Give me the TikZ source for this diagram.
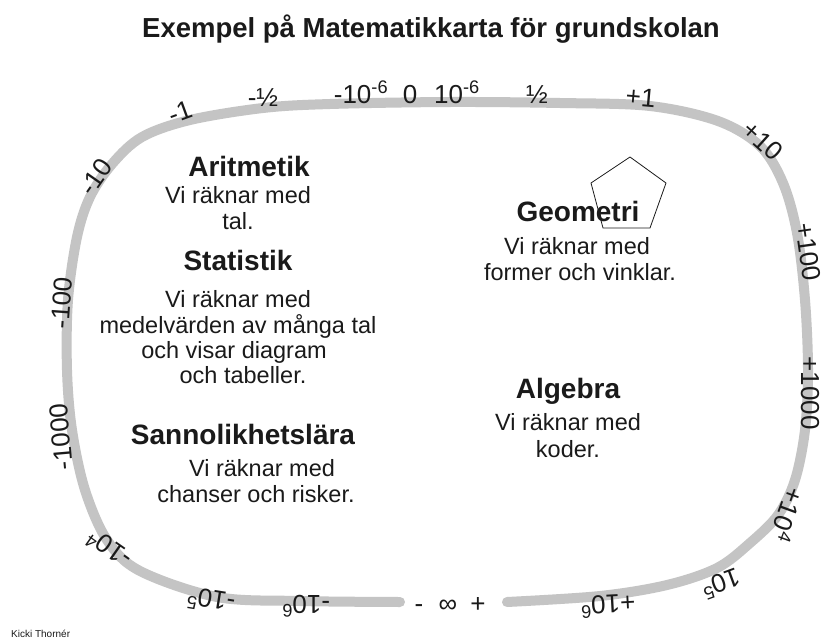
\documentclass[tikz,border=0pt]{standalone}
\usepackage{fontspec}
\setmainfont{Liberation Sans}
\definecolor{loopgray}{HTML}{C4C4C4}
\definecolor{inkblack}{HTML}{1A1A1A}
\begin{document}
\begin{tikzpicture}[x=1pt,y=-1pt,
  loopline/.style={draw=loopgray,line width=10pt,line cap=round,line join=round},
  lab/.style={text=inkblack,font=\fontsize{26}{26}\selectfont,inner sep=0pt},
  head/.style={text=inkblack,font=\bfseries\fontsize{28}{28}\selectfont,inner sep=0pt,anchor=base},
  body/.style={text=inkblack,font=\fontsize{23.5}{26}\selectfont,inner sep=0pt,anchor=base},
]
\useasboundingbox (0,0) rectangle (822,640);
\fill[white] (0,0) rectangle (822,640);

% title
\node[text=inkblack,font=\bfseries\fontsize{27.5}{28}\selectfont,inner sep=0pt,anchor=base] (title) at (431,37) {Exempel på Matematikkarta för grundskolan};

% number loop
\draw[loopline] plot[smooth,tension=0.55] coordinates {
 (400,602) (300,601) (217,597) (140,571) (107,540) (85,490) (72,430) (67,370)
 (68,300) (77,237) (90,197) (112,164) (142,137) (190,120) (263,108) (330,104)
 (450,102) (560,103) (650,106) (718,121) (760,146) (783,183) (797,233) (805,300)
 (808,370) (805,430) (795,480) (778,515) (750,543) (717,568) (667,585) (600,596) (507,602)};

% labels on the loop
\node[lab,anchor=base] (mhalf) at (263,106) {-½};
\node[lab,rotate=20] (m1) at (180,112) {-1};
\node[lab,rotate=55] (m10) at (96,177) {-10};
\node[lab,rotate=86] (m100) at (62,303) {-100};
\node[lab,rotate=95] (m1000) at (61,437) {-1000};
\node[lab,rotate=145] (m10e4) at (109,549) {-10\textsuperscript{4}};
\node[lab,rotate=171] (m10e5) at (211,601) {-10\textsuperscript{5}};
\node[lab,rotate=180] (m10e6) at (306,606) {-10\textsuperscript{6}};
\node[lab,anchor=base] (minus) at (419,612) {-};
\node[lab,anchor=base] (infty) at (448,612) {∞};
\node[lab,anchor=base] (plus) at (478,612) {+};
\node[lab,rotate=183] (p10e6) at (608,606) {+10\textsuperscript{6}};
\node[lab,rotate=200] (p10e5) at (721,584) {10\textsuperscript{5}};
\node[lab,rotate=-110] (p10e4) at (788,515) {+10\textsuperscript{4}};
\node[lab,rotate=-90] (p1000) at (810,393) {+1000};
\node[lab,rotate=-82] (p100) at (808,252) {+100};
\node[lab,rotate=-42] (p10) at (763,141) {+10};
\node[lab,rotate=-5,anchor=base] (p1) at (640,106) {+1};
\node[lab,anchor=base] (phalf) at (537,103) {½};
\node[lab,anchor=base] (p10m6) at (457,103) {10\textsuperscript{-6}};
\node[lab,anchor=base] (zero) at (410,103) {0};
\node[lab,anchor=base] (m10m6) at (361,103) {-10\textsuperscript{-6}};

% pentagon
\draw[line width=0.8pt,inkblack] (630,157) -- (666,183) -- (650,228) -- (603,228) -- (591,183) -- cycle;

% Aritmetik
\node[head] (arit) at (249,176) {Aritmetik};
\node[body] (arit1) at (238,203) {Vi räknar med};
\node[body] (arit2) at (238,229) {tal.};

% Statistik
\node[head] (stat) at (238,270) {Statistik};
\node[body] (stat1) at (238,307) {Vi räknar med};
\node[body] (stat2) at (238,333) {medelvärden av många tal};
\node[body] (stat3) at (234,358) {och visar diagram};
\node[body] (stat4) at (243,383) {och tabeller.};

% Sannolikhetslära
\node[head] (sann) at (243,444) {Sannolikhetslära};
\node[body] (sann1) at (262,476) {Vi räknar med};
\node[body] (sann2) at (256,502) {chanser och risker.};

% Geometri
\node[head] (geo) at (578,221) {Geometri};
\node[body] (geo1) at (577,254) {Vi räknar med};
\node[body] (geo2) at (580,280) {former och vinklar.};

% Algebra
\node[head] (alg) at (568,398) {Algebra};
\node[body] (alg1) at (568,430) {Vi räknar med};
\node[body] (alg2) at (568,457) {koder.};

% credit
\node[text=inkblack,font=\fontsize{10}{10}\selectfont,inner sep=0pt,anchor=base west] (credit) at (11,637) {Kicki Thornér};
\end{tikzpicture}
\end{document}
